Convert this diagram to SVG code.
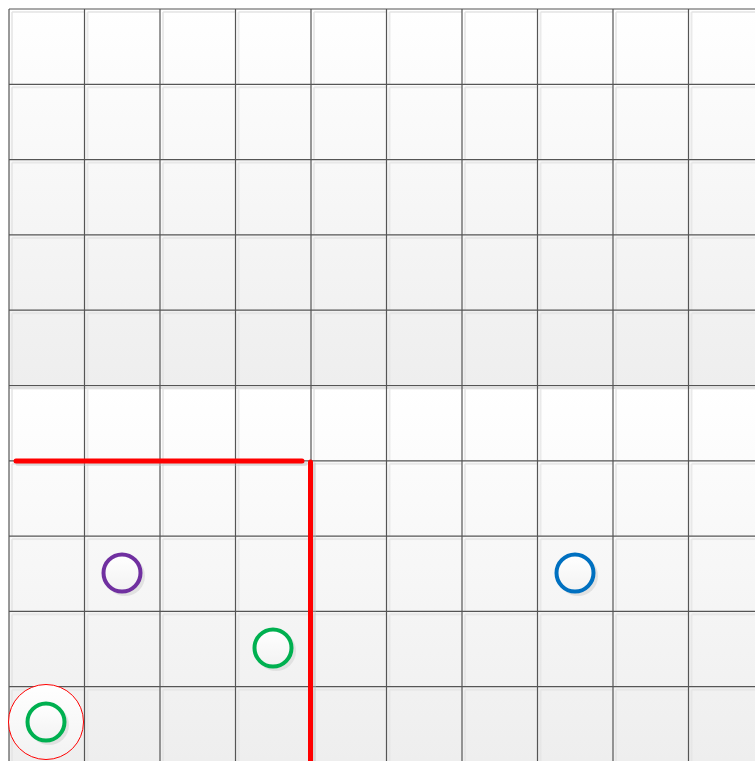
<svg xmlns="http://www.w3.org/2000/svg" width="755" height="761" viewBox="0 0 755 761">
<defs>
<linearGradient id="bg" x1="0" y1="0" x2="0" y2="1">
<stop offset="0" stop-color="#ffffff"/>
<stop offset="1" stop-color="#eeeeee"/>
</linearGradient>
<linearGradient id="cf" x1="0" y1="0" x2="0" y2="1">
<stop offset="0" stop-color="#ffffff"/>
<stop offset="1" stop-color="#f2f2f2"/>
</linearGradient>
<pattern id="hl" x="9" y="9" width="75.5" height="75.3" patternUnits="userSpaceOnUse">
<path d="M3 3 V75.3 M3 3 H75.5" stroke="#e4e4e4" stroke-width="1.5" fill="none"/>
</pattern>
</defs>
<style>
.grid line{stroke:#555;stroke-width:1.2}
.ring{fill:url(#cf);stroke-width:4}
.shadow{fill:#dcdcdc;opacity:0.8}
.wall{stroke:#ff0000;stroke-width:5;stroke-linecap:round;fill:none}
.wallsh{stroke:#bbbbbb;stroke-width:5;stroke-linecap:round;fill:none;opacity:0.4}
</style>
<g id="background">
<rect x="9" y="9" width="746" height="376.5" fill="url(#bg)"/>
<rect x="9" y="385.5" width="746" height="4" fill="#dedede"/>
<rect x="9" y="389" width="746" height="372" fill="url(#bg)"/>
<rect x="9" y="9" width="746" height="752" fill="url(#hl)"/>
</g>
<g id="grid" class="grid">
<line x1="9" y1="9" x2="9" y2="761"/>
<line x1="84.5" y1="9" x2="84.5" y2="761"/>
<line x1="160" y1="9" x2="160" y2="761"/>
<line x1="235.5" y1="9" x2="235.5" y2="761"/>
<line x1="311" y1="9" x2="311" y2="761"/>
<line x1="386.5" y1="9" x2="386.5" y2="761"/>
<line x1="462" y1="9" x2="462" y2="761"/>
<line x1="537.5" y1="9" x2="537.5" y2="761"/>
<line x1="613" y1="9" x2="613" y2="761"/>
<line x1="688.5" y1="9" x2="688.5" y2="761"/>
<line x1="9" y1="9" x2="755" y2="9"/>
<line x1="9" y1="84.3" x2="755" y2="84.3"/>
<line x1="9" y1="159.6" x2="755" y2="159.6"/>
<line x1="9" y1="234.9" x2="755" y2="234.9"/>
<line x1="9" y1="310.2" x2="755" y2="310.2"/>
<line x1="9" y1="385.5" x2="755" y2="385.5"/>
<line x1="9" y1="460.8" x2="755" y2="460.8"/>
<line x1="9" y1="536.1" x2="755" y2="536.1"/>
<line x1="9" y1="611.4" x2="755" y2="611.4"/>
<line x1="9" y1="686.7" x2="755" y2="686.7"/>
</g>
<g id="connectors">
<path class="wallsh" d="M18 463.5 H305 M313.5 464 V761"/>
<path class="wall" d="M16 461 H302"/>
<path class="wall" d="M310.5 462 V763"/>
</g>
<g id="zone">
<circle cx="46" cy="722" r="37.5" fill="url(#cf)" stroke="#ff0000" stroke-width="1"/>
</g>
<g id="purple">
<circle class="shadow" cx="125" cy="576" r="20"/>
<circle class="ring" cx="122" cy="573" r="18.5" stroke="#7030a0"/>
</g>
<g id="blue">
<circle class="shadow" cx="578" cy="576" r="20"/>
<circle class="ring" cx="575" cy="573" r="18.5" stroke="#0070c0"/>
</g>
<g id="green1">
<circle class="shadow" cx="276" cy="651" r="20"/>
<circle class="ring" cx="273" cy="648" r="18.5" stroke="#00b050"/>
</g>
<g id="green2">
<circle class="shadow" cx="49" cy="725" r="20"/>
<circle class="ring" cx="46" cy="722" r="18.5" stroke="#00b050"/>
</g>
</svg>
